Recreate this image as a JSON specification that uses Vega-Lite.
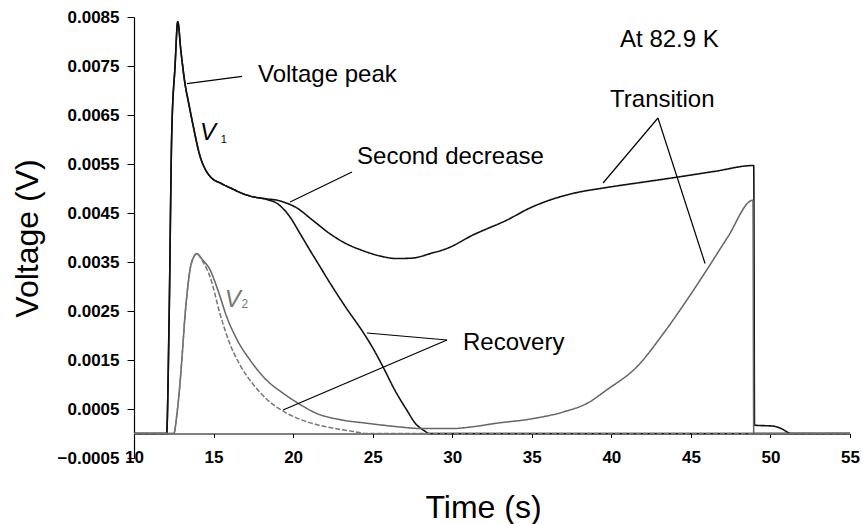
{
  "$schema": "https://vega.github.io/schema/vega-lite/v6.json",
  "width": 716,
  "height": 441,
  "autosize": {"type": "none"},
  "padding": {"left": 134, "top": 17, "right": 13, "bottom": 66},
  "background": "white",
  "config": {"view": {"stroke": null}, "font": "Liberation Sans"},
  "datasets": {
    "curves": [
      {"s": "V1 transition", "t": 10, "v": 0}, {"s": "V1 transition", "t": 12.05, "v": 0}, {"s": "V1 transition", "t": 12.2, "v": 0.0022}, {"s": "V1 transition", "t": 12.37, "v": 0.0061}, {"s": "V1 transition", "t": 12.58, "v": 0.0075}, {"s": "V1 transition", "t": 12.75, "v": 0.0084}, {"s": "V1 transition", "t": 12.95, "v": 0.0078}, {"s": "V1 transition", "t": 13.2, "v": 0.00715}, {"s": "V1 transition", "t": 13.45, "v": 0.00672}, {"s": "V1 transition", "t": 13.7, "v": 0.00631}, {"s": "V1 transition", "t": 14.15, "v": 0.00566}, {"s": "V1 transition", "t": 14.5, "v": 0.00538}, {"s": "V1 transition", "t": 14.8, "v": 0.00524}, {"s": "V1 transition", "t": 15.5, "v": 0.0051}, {"s": "V1 transition", "t": 16.2, "v": 0.00499}, {"s": "V1 transition", "t": 16.8, "v": 0.0049}, {"s": "V1 transition", "t": 17.5, "v": 0.00483}, {"s": "V1 transition", "t": 18.3, "v": 0.00479}, {"s": "V1 transition", "t": 19.0, "v": 0.00476}, {"s": "V1 transition", "t": 19.6, "v": 0.0047}, {"s": "V1 transition", "t": 20.2, "v": 0.00461}, {"s": "V1 transition", "t": 21.2, "v": 0.00436}, {"s": "V1 transition", "t": 22.3, "v": 0.00408}, {"s": "V1 transition", "t": 23.3, "v": 0.00388}, {"s": "V1 transition", "t": 24.4, "v": 0.00373}, {"s": "V1 transition", "t": 25.5, "v": 0.00362}, {"s": "V1 transition", "t": 26.5, "v": 0.00357}, {"s": "V1 transition", "t": 27.5, "v": 0.00358}, {"s": "V1 transition", "t": 28.6, "v": 0.00367}, {"s": "V1 transition", "t": 29.7, "v": 0.00378}, {"s": "V1 transition", "t": 31.3, "v": 0.00405}, {"s": "V1 transition", "t": 33.4, "v": 0.00435}, {"s": "V1 transition", "t": 35, "v": 0.00462}, {"s": "V1 transition", "t": 36.1, "v": 0.00476}, {"s": "V1 transition", "t": 37.6, "v": 0.0049}, {"s": "V1 transition", "t": 39.7, "v": 0.00502}, {"s": "V1 transition", "t": 42, "v": 0.00513}, {"s": "V1 transition", "t": 43.9, "v": 0.00522}, {"s": "V1 transition", "t": 46.5, "v": 0.00535}, {"s": "V1 transition", "t": 48.95, "v": 0.00547}, {"s": "V1 transition", "t": 49.0, "v": 0.00017}, {"s": "V1 transition", "t": 50.2, "v": 0.00015}, {"s": "V1 transition", "t": 50.8, "v": 0.00008}, {"s": "V1 transition", "t": 51.1, "v": 0.00002}, {"s": "V1 transition", "t": 51.3, "v": 0}, {"s": "V1 transition", "t": 55, "v": 0},
      {"s": "V1 recovery", "t": 10, "v": 0}, {"s": "V1 recovery", "t": 12.05, "v": 0}, {"s": "V1 recovery", "t": 12.2, "v": 0.0022}, {"s": "V1 recovery", "t": 12.37, "v": 0.0061}, {"s": "V1 recovery", "t": 12.58, "v": 0.0075}, {"s": "V1 recovery", "t": 12.75, "v": 0.0084}, {"s": "V1 recovery", "t": 12.95, "v": 0.0078}, {"s": "V1 recovery", "t": 13.2, "v": 0.00715}, {"s": "V1 recovery", "t": 13.45, "v": 0.00672}, {"s": "V1 recovery", "t": 13.7, "v": 0.00631}, {"s": "V1 recovery", "t": 14.15, "v": 0.00566}, {"s": "V1 recovery", "t": 14.5, "v": 0.00538}, {"s": "V1 recovery", "t": 14.8, "v": 0.00524}, {"s": "V1 recovery", "t": 15.5, "v": 0.0051}, {"s": "V1 recovery", "t": 16.2, "v": 0.00499}, {"s": "V1 recovery", "t": 16.8, "v": 0.0049}, {"s": "V1 recovery", "t": 17.5, "v": 0.00483}, {"s": "V1 recovery", "t": 18.3, "v": 0.00478}, {"s": "V1 recovery", "t": 18.97, "v": 0.0047}, {"s": "V1 recovery", "t": 19.4, "v": 0.00458}, {"s": "V1 recovery", "t": 19.8, "v": 0.00442}, {"s": "V1 recovery", "t": 20.4, "v": 0.0041}, {"s": "V1 recovery", "t": 21.06, "v": 0.00374}, {"s": "V1 recovery", "t": 21.7, "v": 0.0034}, {"s": "V1 recovery", "t": 22.32, "v": 0.00307}, {"s": "V1 recovery", "t": 23.3, "v": 0.00258}, {"s": "V1 recovery", "t": 24.39, "v": 0.00207}, {"s": "V1 recovery", "t": 25.0, "v": 0.00175}, {"s": "V1 recovery", "t": 25.65, "v": 0.00136}, {"s": "V1 recovery", "t": 26.4, "v": 0.00088}, {"s": "V1 recovery", "t": 27.14, "v": 0.00048}, {"s": "V1 recovery", "t": 27.7, "v": 0.0002}, {"s": "V1 recovery", "t": 28.18, "v": 0.00007}, {"s": "V1 recovery", "t": 28.6, "v": 0}, {"s": "V1 recovery", "t": 55, "v": 0},
      {"s": "V2 transition", "t": 10, "v": 0}, {"s": "V2 transition", "t": 12.5, "v": 0}, {"s": "V2 transition", "t": 12.7, "v": 0.0004}, {"s": "V2 transition", "t": 12.89, "v": 0.00102}, {"s": "V2 transition", "t": 13.05, "v": 0.0017}, {"s": "V2 transition", "t": 13.2, "v": 0.00238}, {"s": "V2 transition", "t": 13.35, "v": 0.0029}, {"s": "V2 transition", "t": 13.52, "v": 0.00334}, {"s": "V2 transition", "t": 13.75, "v": 0.0036}, {"s": "V2 transition", "t": 13.94, "v": 0.00367}, {"s": "V2 transition", "t": 14.3, "v": 0.00355}, {"s": "V2 transition", "t": 14.78, "v": 0.00334}, {"s": "V2 transition", "t": 15.3, "v": 0.0029}, {"s": "V2 transition", "t": 15.83, "v": 0.00238}, {"s": "V2 transition", "t": 16.5, "v": 0.0019}, {"s": "V2 transition", "t": 17.29, "v": 0.0015}, {"s": "V2 transition", "t": 18.3, "v": 0.0011}, {"s": "V2 transition", "t": 19.38, "v": 0.00082}, {"s": "V2 transition", "t": 20.4, "v": 0.0006}, {"s": "V2 transition", "t": 21.48, "v": 0.00041}, {"s": "V2 transition", "t": 23, "v": 0.00028}, {"s": "V2 transition", "t": 24.62, "v": 0.00021}, {"s": "V2 transition", "t": 26.5, "v": 0.00014}, {"s": "V2 transition", "t": 28.18, "v": 0.0001}, {"s": "V2 transition", "t": 30, "v": 0.0001}, {"s": "V2 transition", "t": 31.1, "v": 0.00013}, {"s": "V2 transition", "t": 32.8, "v": 0.00021}, {"s": "V2 transition", "t": 35, "v": 0.0003}, {"s": "V2 transition", "t": 36.98, "v": 0.00044}, {"s": "V2 transition", "t": 38.5, "v": 0.00062}, {"s": "V2 transition", "t": 39.71, "v": 0.00089}, {"s": "V2 transition", "t": 41.6, "v": 0.00136}, {"s": "V2 transition", "t": 43.27, "v": 0.00204}, {"s": "V2 transition", "t": 44.74, "v": 0.00272}, {"s": "V2 transition", "t": 46.0, "v": 0.00334}, {"s": "V2 transition", "t": 47.3, "v": 0.004}, {"s": "V2 transition", "t": 48.9, "v": 0.00476}, {"s": "V2 transition", "t": 48.95, "v": 0}, {"s": "V2 transition", "t": 55, "v": 0},
      {"s": "V2 recovery", "t": 10, "v": 0}, {"s": "V2 recovery", "t": 12.5, "v": 0}, {"s": "V2 recovery", "t": 12.7, "v": 0.0004}, {"s": "V2 recovery", "t": 12.89, "v": 0.00102}, {"s": "V2 recovery", "t": 13.05, "v": 0.0017}, {"s": "V2 recovery", "t": 13.2, "v": 0.00238}, {"s": "V2 recovery", "t": 13.35, "v": 0.0029}, {"s": "V2 recovery", "t": 13.52, "v": 0.00334}, {"s": "V2 recovery", "t": 13.75, "v": 0.0036}, {"s": "V2 recovery", "t": 13.94, "v": 0.00367}, {"s": "V2 recovery", "t": 14.3, "v": 0.00352}, {"s": "V2 recovery", "t": 14.8, "v": 0.00318}, {"s": "V2 recovery", "t": 15.4, "v": 0.00245}, {"s": "V2 recovery", "t": 16.0, "v": 0.00185}, {"s": "V2 recovery", "t": 16.66, "v": 0.0014}, {"s": "V2 recovery", "t": 17.5, "v": 0.001}, {"s": "V2 recovery", "t": 18.34, "v": 0.0007}, {"s": "V2 recovery", "t": 19.4, "v": 0.00045}, {"s": "V2 recovery", "t": 20.43, "v": 0.00029}, {"s": "V2 recovery", "t": 21.5, "v": 0.00018}, {"s": "V2 recovery", "t": 22.5, "v": 0.00011}, {"s": "V2 recovery", "t": 23.8, "v": 0.00004}, {"s": "V2 recovery", "t": 24.6, "v": 0}, {"s": "V2 recovery", "t": 55, "v": 0}
    ],
    "arrows": [
      {"t": 16.79, "v": 0.00729, "t2": 13.33, "v2": 0.00714},
      {"t": 23.7, "v": 0.005337, "t2": 19.81, "v2": 0.004724},
      {"t": 42.93, "v": 0.006439, "t2": 39.48, "v2": 0.005112},
      {"t": 42.93, "v": 0.006439, "t2": 45.89, "v2": 0.00347},
      {"t": 29.67, "v": 0.001908, "t2": 24.64, "v2": 0.002051},
      {"t": 29.67, "v": 0.001908, "t2": 19.37, "v2": 0.00048}
    ],
    "labels": [
      {"kind": "note", "t": 17.79, "v": 0.007316, "text": "Voltage peak"},
      {"kind": "note", "t": 24.02, "v": 0.005643, "text": "Second decrease"},
      {"kind": "note", "t": 39.92, "v": 0.006806, "text": "Transition"},
      {"kind": "note", "t": 40.55, "v": 0.00803, "text": "At 82.9 K"},
      {"kind": "note", "t": 30.68, "v": 0.001847, "text": "Recovery"},
      {"kind": "sym", "t": 14.15, "v": 0.00614, "text": "V"},
      {"kind": "sub", "t": 15.45, "v": 0.00600, "text": "1"},
      {"kind": "sym2", "t": 15.7, "v": 0.00272, "text": "V"},
      {"kind": "sub2", "t": 16.75, "v": 0.00264, "text": "2"}
    ]
  },
  "layer": [
    {
      "data": {"name": "curves"},
      "mark": {"type": "line", "interpolate": "monotone", "clip": true},
      "encoding": {
        "x": {
          "field": "t", "type": "quantitative",
          "scale": {"domain": [10, 55], "nice": false, "zero": false},
          "axis": {
            "title": "Time (s)", "values": [10, 15, 20, 25, 30, 35, 40, 45, 50, 55],
            "offset": -24.5, "grid": false, "tickSize": 4, "labelPadding": 20,
            "labelBaseline": "middle", "labelFontSize": 17, "labelFontWeight": "bold",
            "labelFlush": false, "labelOverlap": false, "labelColor": "black",
            "domainColor": "black", "tickColor": "black", "domainWidth": 1.2,
            "titleFontSize": 32, "titleFontWeight": "normal", "titleColor": "black",
            "titleX": 349, "titleY": 83.5, "titleBaseline": "alphabetic"
          }
        },
        "y": {
          "field": "v", "type": "quantitative",
          "scale": {"domain": [-0.0005, 0.0085], "nice": false, "zero": false},
          "axis": {
            "title": "Voltage (V)",
            "values": [-0.0005, 0.0005, 0.0015, 0.0025, 0.0035, 0.0045, 0.0055, 0.0065, 0.0075, 0.0085],
            "format": ".4f", "grid": false, "tickSize": 7, "labelPadding": 8,
            "labelFontSize": 17, "labelFontWeight": "bold", "labelColor": "black",
            "labelOverlap": false, "labelFlush": false,
            "domainColor": "black", "tickColor": "black", "domainWidth": 1.2,
            "titleFontSize": 32, "titleFontWeight": "normal", "titleColor": "black",
            "titleX": -97, "titleY": 221, "titleBaseline": "alphabetic"
          }
        },
        "color": {
          "field": "s", "type": "nominal", "legend": null,
          "scale": {"domain": ["V1 transition", "V1 recovery", "V2 transition", "V2 recovery"], "range": ["#111111", "#111111", "#666666", "#777777"]}
        },
        "strokeDash": {
          "field": "s", "type": "nominal", "legend": null,
          "scale": {"domain": ["V1 transition", "V1 recovery", "V2 transition", "V2 recovery"], "range": [[1, 0], [1, 0], [1, 0], [5, 2]]}
        },
        "strokeWidth": {
          "field": "s", "type": "nominal", "legend": null,
          "scale": {"domain": ["V1 transition", "V1 recovery", "V2 transition", "V2 recovery"], "range": [1.6, 1.5, 1.2, 1.2]}
        }
      }
    },
    {
      "data": {"name": "arrows"},
      "mark": {"type": "rule", "color": "black", "strokeWidth": 1.2},
      "encoding": {
        "x": {"field": "t", "type": "quantitative"},
        "y": {"field": "v", "type": "quantitative"},
        "x2": {"field": "t2"},
        "y2": {"field": "v2"}
      }
    },
    {
      "data": {"name": "labels"},
      "transform": [{"filter": "datum.kind == 'note'"}],
      "mark": {"type": "text", "align": "left", "baseline": "middle", "fontSize": 24, "color": "black"},
      "encoding": {
        "x": {"field": "t", "type": "quantitative"},
        "y": {"field": "v", "type": "quantitative"},
        "text": {"field": "text"}
      }
    },
    {
      "data": {"name": "labels"},
      "transform": [{"filter": "datum.kind == 'sym'"}],
      "mark": {"type": "text", "align": "left", "baseline": "middle", "fontSize": 24, "fontStyle": "italic", "color": "black"},
      "encoding": {
        "x": {"field": "t", "type": "quantitative"},
        "y": {"field": "v", "type": "quantitative"},
        "text": {"field": "text"}
      }
    },
    {
      "data": {"name": "labels"},
      "transform": [{"filter": "datum.kind == 'sub'"}],
      "mark": {"type": "text", "align": "left", "baseline": "middle", "fontSize": 11, "color": "black"},
      "encoding": {
        "x": {"field": "t", "type": "quantitative"},
        "y": {"field": "v", "type": "quantitative"},
        "text": {"field": "text"}
      }
    },
    {
      "data": {"name": "labels"},
      "transform": [{"filter": "datum.kind == 'sym2'"}],
      "mark": {"type": "text", "align": "left", "baseline": "middle", "fontSize": 24, "fontStyle": "italic", "color": "#777777"},
      "encoding": {
        "x": {"field": "t", "type": "quantitative"},
        "y": {"field": "v", "type": "quantitative"},
        "text": {"field": "text"}
      }
    },
    {
      "data": {"name": "labels"},
      "transform": [{"filter": "datum.kind == 'sub2'"}],
      "mark": {"type": "text", "align": "left", "baseline": "middle", "fontSize": 12, "color": "#777777"},
      "encoding": {
        "x": {"field": "t", "type": "quantitative"},
        "y": {"field": "v", "type": "quantitative"},
        "text": {"field": "text"}
      }
    }
  ]
}
